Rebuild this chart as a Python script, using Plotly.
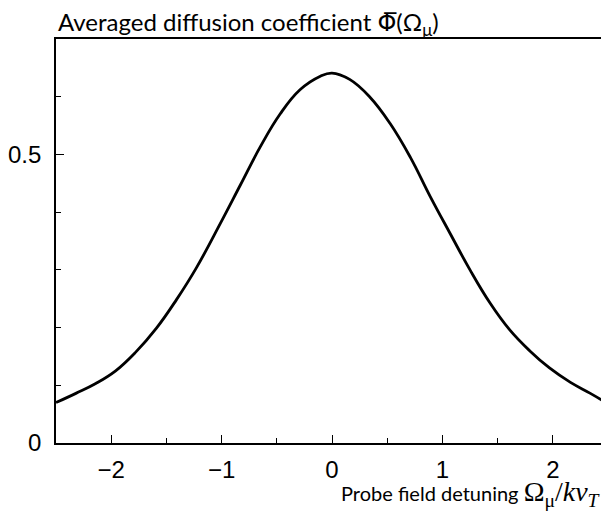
"""Averaged diffusion coefficient versus probe field detuning."""
from plotly import graph_objects as go

# probe field detuning, in units of k v_T
detuning = [-2.50, -2.32, -2.14, -1.96, -1.78, -1.59, -1.41, -1.23, -1.01, -0.83,
            -0.65, -0.47, -0.29, -0.11, 0.00, 0.16, 0.34, 0.525, 0.71, 0.89,
            1.07, 1.25, 1.43, 1.61, 1.79, 1.97, 2.16, 2.34, 2.50]
# averaged diffusion coefficient at those points
phi_avg = [0.070, 0.086, 0.103, 0.125, 0.157, 0.199, 0.248, 0.303, 0.381, 0.447,
           0.513, 0.570, 0.612, 0.635, 0.641, 0.630, 0.600, 0.554, 0.495, 0.427,
           0.363, 0.300, 0.243, 0.196, 0.160, 0.130, 0.105, 0.086, 0.068]

x_ticks = [-2, -1, 0, 1, 2]
y_ticks = [0, 0.5]
y_tick_text = ["0", "0.5"]

text_font = "Lato, DejaVu Sans, sans-serif"
tick_font = "Liberation Sans, Arial, sans-serif"

fig = go.Figure()
fig.add_trace(
    go.Scatter(
        x=detuning,
        y=phi_avg,
        mode="lines",
        line=dict(color="black", width=2.8, shape="spline", smoothing=1.2),
        showlegend=False,
    )
)

axis_style = dict(
    ticks="inside",
    ticklen=8,
    tickwidth=1.2,
    tickcolor="black",
    showgrid=False,
    zeroline=False,
    showline=True,
    linecolor="black",
    linewidth=1.8,
    mirror=True,
    automargin=False,
    tickfont=dict(family=tick_font, size=24),
)

# the page body adds an 8px offset, so the figure is sized to fit what is left
fig.update_layout(
    width=601,
    height=508,
    margin=dict(l=48, r=1, t=31, b=73),
    paper_bgcolor="white",
    plot_bgcolor="white",
    font=dict(family=text_font, size=20, color="black"),
    xaxis=dict(
        range=[-2.5, 2.5],
        tickvals=x_ticks,
        ticklabelstandoff=4,
        minor=dict(dtick=0.5, tick0=0, ticks="inside", ticklen=5,
                   tickwidth=1.2, tickcolor="black", showgrid=False),
        **axis_style,
    ),
    yaxis=dict(
        range=[0, 0.7],
        tickvals=y_ticks,
        ticktext=y_tick_text,
        ticklabelstandoff=8,
        minor=dict(dtick=0.1, tick0=0, ticks="inside", ticklen=5,
                   tickwidth=1.2, tickcolor="black", showgrid=False),
        **axis_style,
    ),
)

fig.add_annotation(
    text="Averaged diffusion coefficient "
         "<span style='font-family:DejaVu Sans'>Φ\u0305</span>(Ω<sub>μ</sub>)",
    xref="paper", yref="paper",
    x=0.0, y=1.0, xanchor="left", yanchor="bottom", yshift=-3,
    showarrow=False,
    font=dict(family=text_font, size=24),
)
fig.add_annotation(
    text="Probe field detuning "
         "<span style='font-family:Liberation Serif;font-size:28px'>"
         "Ω<sub>μ</sub>/<i>kv</i><sub><i>T</i></sub></span>",
    xref="paper", yref="paper",
    x=1.0, y=0.0, xanchor="right", yanchor="top", yshift=-31, xshift=-5,
    showarrow=False,
    font=dict(family=text_font, size=20),
)

fig.write_html("out.html")
